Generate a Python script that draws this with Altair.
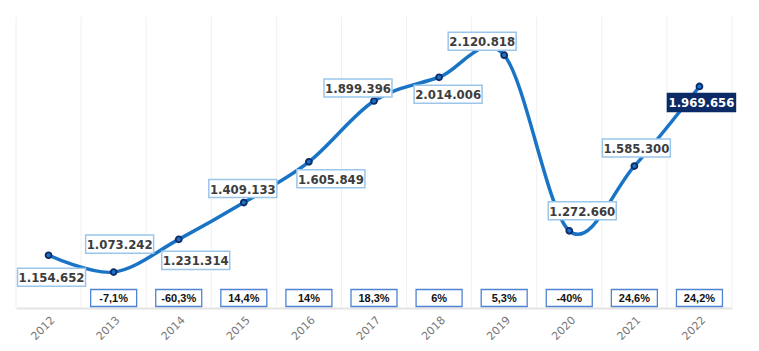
import altair as alt
import pandas as pd

years = [2012, 2013, 2014, 2015, 2016, 2017, 2018, 2019, 2020, 2021, 2022]
values = [1154652, 1073242, 1231314, 1409133, 1605849, 1899396, 2014006,
          2120818, 1272660, 1585300, 1969656]
pct_years = [2013, 2014, 2015, 2016, 2017, 2018, 2019, 2020, 2021, 2022]
pct_labels = ["-7,1%", "-60,3%", "14,4%", "14%", "18,3%", "6%", "5,3%",
              "-40%", "24,6%", "24,2%"]

# label placement (pixel offsets of each value box from its point)
label_dx = [3, 6, 17, -1, 22, -16, 9, -22, 13, 2, 2]
label_dy = [22, -28, 21, -14, 17, -13, 17, -14, -20, -18, 16]

def fmt(v):
    return f"{v:,}".replace(",", ".")

df = pd.DataFrame({
    "year": years,
    "value": values,
    "label": [fmt(v) for v in values],
})
pct = pd.DataFrame({"year": pct_years, "label": pct_labels})
grid = pd.DataFrame({"year": [y - 0.5 for y in years] + [years[-1] + 0.5]})

W, H = 716, 291
xs = alt.Scale(domain=[years[0] - 0.5, years[-1] + 0.5], nice=False, zero=False)
ys = alt.Scale(domain=[900000, 2305000], nice=False, zero=False)

xaxis = alt.Axis(
    values=years, format="d", grid=False, ticks=False, labelAngle=-45,
    labelAlign="right", labelBaseline="top", labelColor="#777777",
    labelFont="DejaVu Sans", labelFontSize=11, labelPadding=6,
    domainColor="#e4e4e4", domainWidth=2, title=None)
X = alt.X("year:Q", scale=xs, axis=xaxis)
Y = alt.Y("value:Q", scale=ys, axis=None)

gridlines = alt.Chart(grid).mark_rule(color="#f0f0f0", strokeWidth=1).encode(x=X)

line = alt.Chart(df).mark_line(
    interpolate="cardinal", color="#1a74c6", strokeWidth=3.5).encode(x=X, y=Y)

pts = alt.Chart(df).mark_point(
    filled=False, shape="circle", size=35, stroke="#0b2a66", strokeWidth=1.8,
    fill="#1a74c6", opacity=1, fillOpacity=1).encode(x=X, y=Y)

box_path = "M-1,-0.265L1,-0.265L1,0.265L-1,0.265Z"
label_layers = []
n = len(years)
for i, yr in enumerate(years):
    last = i == n - 1
    base = alt.Chart(df).transform_filter(alt.datum.year == yr)
    label_layers.append(base.mark_point(
        shape=box_path, size=68 * 68, strokeWidth=1.5, opacity=1, fillOpacity=1,
        fill="#0b2a66" if last else "#ffffff",
        stroke="#0b2a66" if last else "#9cc5ea",
        xOffset=label_dx[i], yOffset=label_dy[i],
    ).encode(x=X, y=Y))
    label_layers.append(base.mark_text(
        font="DejaVu Sans Condensed", fontWeight="bold", fontSize=13,
        baseline="middle", align="center",
        dx=label_dx[i], dy=label_dy[i] + 1,
        color="#ffffff" if last else "#3d3d3d",
    ).encode(x=X, y=Y, text="label:N"))

pbox_path = "M-1,-0.37L1,-0.37L1,0.37L-1,0.37Z"
pboxes = alt.Chart(pct).mark_point(
    shape=pbox_path, size=46 * 46, stroke="#5083d2", strokeWidth=1.3,
    fill="#ffffff", opacity=1, fillOpacity=1
).encode(x=X, y=alt.value(281))

ptexts = alt.Chart(pct).mark_text(
    font="Liberation Sans", fontWeight="bold", fontSize=11, color="#111111",
    baseline="middle", align="center", dy=1
).encode(x=X, y=alt.value(281), text="label:N")

chart = alt.layer(gridlines, line, pts, *label_layers, pboxes, ptexts).properties(
    width=W, height=H,
    autosize=alt.AutoSizeParams(type="none"),
    padding={"left": 16, "top": 17, "right": 27, "bottom": 43},
    background="#ffffff",
).configure_view(strokeWidth=0)

chart.save("out.html", embed_options={"renderer": "svg", "actions": False})
